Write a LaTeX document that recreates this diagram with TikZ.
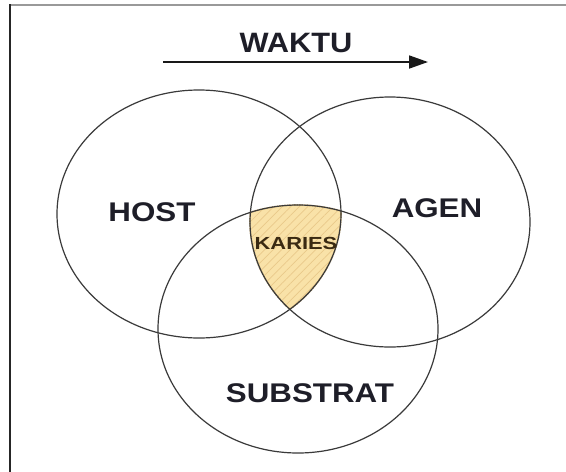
\documentclass[tikz,border=0pt]{standalone}
\usepackage{fontspec}
\setmainfont{Liberation Sans}
\usetikzlibrary{arrows.meta,patterns.meta,shapes.geometric}
\definecolor{linec}{HTML}{3A3A3A}
\definecolor{textc}{HTML}{1E1E28}
\definecolor{kfill}{HTML}{F9E2A8}
\definecolor{khatch}{HTML}{E9C98A}
\definecolor{kborder}{HTML}{D2B070}
\definecolor{kartext}{HTML}{3A2A12}
\begin{document}
\begin{tikzpicture}[x=1pt,y=-1pt,
  venn/.style={draw=linec,line width=1.2pt,shape=ellipse,minimum width=284pt,minimum height=248pt,inner sep=0pt},
  biglabel/.style={anchor=base,inner sep=0pt,text=textc,font=\fontsize{27}{30}\selectfont\bfseries},
  smalllabel/.style={anchor=base,inner sep=0pt,text=kartext,font=\fontsize{17.5}{20}\selectfont\bfseries}]
\useasboundingbox (0,0) rectangle (566,472);
\fill[white] (0,0) rectangle (566,472);
% frame
\draw[color=gray!80,line width=2pt] (10,5) -- (570,5);
\draw[color=black!85,line width=2pt] (10,4) -- (10,476);
% karies region
\begin{scope}
  \clip (199,214) ellipse [x radius=142pt, y radius=124pt];
  \clip (390,222) ellipse [x radius=140pt, y radius=125pt];
  \fill[kfill] (298,329) ellipse [x radius=140pt, y radius=124pt];
  \fill[pattern={Lines[angle=45,distance=6pt,line width=0.7pt]},pattern color=khatch] (298,329) ellipse [x radius=140pt, y radius=124pt];
  \draw[kborder,line width=1.6pt,dash pattern=on 1.5pt off 1pt] (298,329) ellipse [x radius=140pt, y radius=124pt];
\end{scope}
\begin{scope}
  \clip (298,329) ellipse [x radius=140pt, y radius=124pt];
  \clip (390,222) ellipse [x radius=140pt, y radius=125pt];
  \draw[kborder,line width=1.6pt,dash pattern=on 1.5pt off 1pt] (199,214) ellipse [x radius=142pt, y radius=124pt];
\end{scope}
\begin{scope}
  \clip (298,329) ellipse [x radius=140pt, y radius=124pt];
  \clip (199,214) ellipse [x radius=142pt, y radius=124pt];
  \draw[kborder,line width=1.6pt,dash pattern=on 1.5pt off 1pt] (390,222) ellipse [x radius=140pt, y radius=125pt];
\end{scope}
% ellipses
\node[venn,minimum width=284pt,minimum height=248pt] (host) at (199,214) {};
\node[venn,minimum width=280pt,minimum height=250pt] (agen) at (390,222) {};
\node[venn,minimum width=280pt,minimum height=248pt] (substrat) at (298,329) {};
% labels
\node[biglabel] (hostlbl) at (152,221) {\scalebox{1.16}[1]{HOST}};
\node[biglabel] (agenlbl) at (437,217) {\scalebox{1.16}[1]{AGEN}};
\node[biglabel] (substratlbl) at (310,402) {\scalebox{1.16}[1]{SUBSTRAT}};
\node[smalllabel] (karieslbl) at (296,249) {\scalebox{1.25}[1]{KARIES}};
\node[biglabel,font=\fontsize{28}{30}\selectfont\bfseries] (waktu) at (296,52) {\scalebox{1.1}[1]{WAKTU}};
% time arrow
\coordinate (tstart) at (163,62);
\coordinate (tend) at (428,62);
\draw[color=black!90,line width=1.8pt,-{Triangle[length=19pt,width=13pt]}] (tstart) -- (tend);
\end{tikzpicture}
\end{document}
